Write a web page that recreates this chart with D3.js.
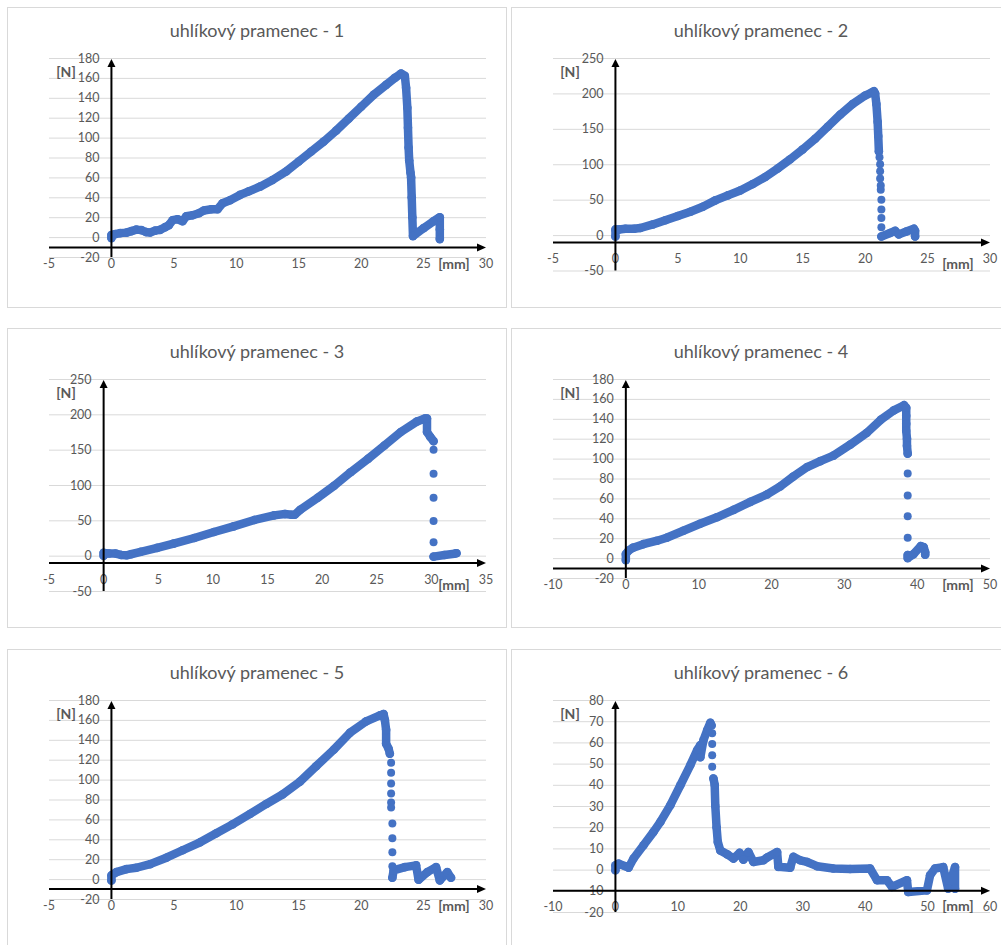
<!DOCTYPE html>
<html><head><meta charset="utf-8">
<script src="https://cdn.jsdelivr.net/npm/d3@7"></script>
<style>body{margin:0;background:#fff;} svg{display:block;}</style>
</head><body>
<svg id="c" width="1001" height="945"></svg>
<script>
// ---------- titles & tick labels ----------
const titles = ["uhlíkový pramenec - 1","uhlíkový pramenec - 2","uhlíkový pramenec - 3",
                "uhlíkový pramenec - 4","uhlíkový pramenec - 5","uhlíkový pramenec - 6"];
const xTicks1 = [-5,0,5,10,15,20,25,30];
const yTicks1 = [-20,0,20,40,60,80,100,120,140,160,180];
const xTicks2 = [-5,0,5,10,15,20,25,30];
const yTicks2 = [-50,0,50,100,150,200,250];
const xTicks3 = [-5,0,5,10,15,20,25,30,35];
const yTicks3 = [-50,0,50,100,150,200,250];
const xTicks4 = [-10,0,10,20,30,40,50];
const yTicks4 = [-20,0,20,40,60,80,100,120,140,160,180];
const xTicks5 = [-5,0,5,10,15,20,25,30];
const yTicks5 = [-20,0,20,40,60,80,100,120,140,160,180];
const xTicks6 = [-10,0,10,20,30,40,50,60];
const yTicks6 = [-20,-10,0,10,20,30,40,50,60,70,80];
const yUnit = "[N]", xUnit = "[mm]";

// ---------- series (dense trace; null = break) ----------
const s1x = [0,0,0.3,0.7,1.2,1.6,2.0,2.4,2.8,3.1,3.5,3.9,4.3,4.6,4.9,5.3,5.7,6.0,6.5,7.0,7.4,8.0,8.5,8.9,9.5,10.3,11.0,11.9,12.9,14,15,16,17,18,19,20,21,22,22.7,23.2,23.5,23.6,23.7,23.75,23.8,23.85,23.95,24.0,24.05,24.1,24.15,25.0,25.8,26.3,26.3,26.3];
const s1y = [-1,2,3,4,4.5,6,7.5,7,5,4.6,6.5,7.3,10,12,17,18,16,21,22,24,26.7,28,28,34,37,42.4,46,50.7,57.4,66,76,86,96,107,119,131,143,153,160,164.4,162,150,130,110,90,77,65,60,40,20,1,9,16,20,8,-2];
const d1x = [], d1y = [];

const s2x = [0,0,0.3,0.8,1.5,2,3,4,5,6,7,8,9,10,11,12,13,14,15,16,17,18,19,20,20.5,20.7,20.8,20.9,21.0,21.05,21.1,null,21.3,22,22.4,22.7,23.3,23.9,24,24];
const s2y = [-2,8,8,9,9,10,15,21,27,33,40,49,56,63,72,82,94,107,121,136,153,170,185,197,201,203,200,185,160,140,118,null,-2,3,6,1,5,9,6,-2];
const d2x = [21.15,21.2,21.2,21.2,21.25,21.25,21.3,21.3,21.3,21.3];
const d2y = [110,100,90,80,70,64,50,36,24,11];

const s3x = [0,0,0.5,1.1,1.6,2.1,2.5,3.4,4.9,6.4,8.3,10.1,11.9,13.8,15.6,16.6,17.2,17.5,18,19.6,21.1,22.6,24.2,25.7,27.2,28.7,29.4,29.6,29.6,29.9,30.2,null,30.2,31.2,32.1,32.3];
const s3y = [0,4,3,3,1,0.5,2,5.5,11,17,25,33.5,41.5,50.5,57,59,58,58,65,82,99,118,137,156,175,190,194,194,175,168,162,null,-1.4,1,2.8,3.5];
const d3x = [30.2,30.2,30.2,30.2,30.2];
const d3y = [150,116,82,49,19];

const s4x = [0,0,0.4,1,2.4,4.3,5.6,7.9,10.2,12.5,14.8,17.1,19.4,21.2,23,24.9,26.7,28.5,30.8,33.1,35,36.8,38.2,38.5,38.5,38.5,38.5,38.6,38.6,38.7,null,38.7,38.7,39.5,40.5,40.9,41.1,41.1];
const s4y = [-2,4,7.7,10.5,14,17.5,20.5,27.5,34.5,41,48.5,56.5,64,72,82,91.5,97.5,103,114,126,139,148.5,153.7,151,143,135,128,120,113,105,null,3,0,4,12,11,6,3.4];
const d4x = [38.7,38.7,38.7,38.7];
const d4y = [85,63,42,20.5];

const s5x = [0,0,0.4,1.2,2,3.1,4.4,5.7,7.1,8.4,9.7,11.1,12.4,13.7,15.1,16.4,17.8,19.1,20.4,21.5,21.8,21.9,22,22,22.2,22.3,null,22.5,22.6,23.5,24.4,24.6,25.3,26,26.3,26.9,27.2];
const s5y = [-1.3,3.7,7,10,11.4,15,21.5,29,37,46,55,65.5,75.5,85,98,113.5,130,147,158.5,164.5,165.8,160,150,136,131,126,null,1.3,8.7,12,13.8,-0.7,7,12,-1.3,7,1.3];
const d5x = [22.4,22.4,22.4,22.4,22.4,22.4,22.5,22.5,22.5,22.5];
const d5y = [117,107,96,86,77,72,56,41,27,13];

const s6x = [0,0,0.5,1.6,2.1,2.9,4.5,6.1,7.2,8.8,10.4,12,13.1,13.6,13.6,14.1,14.7,15.2,15.4,null,15.7,15.9,16,16.2,16.4,16.8,17.9,18.9,19.9,20.5,21.3,22.1,23.7,24.3,25.9,26.1,28,28.5,29.6,30.7,32.3,34.9,37.6,40.8,41.9,43.5,44.3,46.7,46.9,49.9,50.4,51.2,52.5,53.3,54.4,54.4];
const s6y = [-0.3,2,2.8,1.6,0.9,5.2,11.5,17.8,22.5,30.4,39.8,49.3,56.4,58.7,53,61,65.8,69.3,68,null,43,40,30,20,13,9,7.2,5.2,7.9,4.7,8.3,3.6,4.4,5.7,8.3,1.3,0.9,6,4.4,3.6,1.6,0.5,0.3,0.5,-5,-5,-8.2,-5,-10.6,-9.8,-2.7,0.5,1.2,-9,1.2,-9];
const d6x = [15.5,15.5,15.5,15.5];
const d6y = [64.3,59.2,53.9,48.5];

// ---------- layout ----------
const panels = [
  {l:7,   t:7,   w:500, h:301, xd:[-5,30],  yd:[-20,180], bot:250, cross:-10.5, xt:xTicks1, yt:yTicks1, sx:s1x, sy:s1y, dx:d1x, dy:d1y},
  {l:511, t:7,   w:500, h:301, xd:[-5,30],  yd:[-50,250], bot:263.5, cross:-10.5, xt:xTicks2, yt:yTicks2, sx:s2x, sy:s2y, dx:d2x, dy:d2y},
  {l:7,   t:328, w:500, h:300, xd:[-5,35],  yd:[-50,250], bot:263, cross:-10.5, xt:xTicks3, yt:yTicks3, sx:s3x, sy:s3y, dx:d3x, dy:d3y},
  {l:511, t:328, w:500, h:300, xd:[-10,50], yd:[-20,180], bot:250, cross:-10.5, xt:xTicks4, yt:yTicks4, sx:s4x, sy:s4y, dx:d4x, dy:d4y},
  {l:7,   t:649, w:500, h:310, xd:[-5,30],  yd:[-20,180], bot:250, cross:-10, xt:xTicks5, yt:yTicks5, sx:s5x, sy:s5y, dx:d5x, dy:d5y},
  {l:511, t:649, w:500, h:310, xd:[-10,60], yd:[-20,80],  bot:263, cross:-10, xt:xTicks6, yt:yTicks6, sx:s6x, sy:s6y, dx:d6x, dy:d6y}
];

const svg = d3.select("#c");
const BLUE = "#4472C4", GREY = "#595959", GRID = "#d9d9d9";
const FONT = "Lato, 'Open Sans', sans-serif";

panels.forEach((p, i) => {
  const g = svg.append("g").attr("transform", `translate(${p.l},${p.t})`);
  g.append("rect").attr("x",0.5).attr("y",0.5).attr("width",p.w-1).attr("height",p.h-1)
    .attr("fill","#fff").attr("stroke",GRID).attr("stroke-width",1);
  g.append("text").attr("x",250).attr("y",23).attr("text-anchor","middle").attr("dominant-baseline","central")
    .attr("font-family",FONT).attr("font-size",18).attr("fill",GREY).text(titles[i]);

  const x = d3.scaleLinear().domain(p.xd).range([42, 479]);
  const y = d3.scaleLinear().domain(p.yd).range([p.bot, 51]);

  // gridlines
  const gy = d3.axisLeft(y).tickValues(p.yt).tickSize(-(479-42)).tickFormat("");
  g.append("g").attr("transform","translate(42,0)").call(gy)
    .call(s => s.select(".domain").remove())
    .call(s => s.selectAll("line").attr("stroke",GRID).attr("stroke-width",1));

  // y tick labels (right aligned left of y axis)
  const x0 = x(0);
  g.append("g").selectAll("text").data(p.yt).join("text")
    .attr("x", x0 - 12).attr("y", d => y(d)).attr("text-anchor","end").attr("dominant-baseline","central")
    .attr("font-family",FONT).attr("font-size",12.5).attr("fill",GREY).text(d => d);

  // x tick labels (below the black axis line)
  const yc = y(p.cross);
  g.append("g").selectAll("text").data(p.xt).join("text")
    .attr("x", d => x(d)).attr("y", yc + 16).attr("text-anchor","middle").attr("dominant-baseline","central")
    .attr("font-family",FONT).attr("font-size",12.5).attr("fill",GREY).text(d => d);

  // unit labels
  g.append("text").attr("x",59).attr("y",64).attr("text-anchor","middle").attr("dominant-baseline","central")
    .attr("font-family",FONT).attr("font-size",14).attr("font-weight","bold").attr("fill",GREY).text(yUnit);
  g.append("text").attr("x",447).attr("y",256).attr("text-anchor","middle").attr("dominant-baseline","central")
    .attr("font-family",FONT).attr("font-size",14).attr("font-weight","bold").attr("fill",GREY).text(xUnit);

  // series
  const pts = p.sx.map((v, k) => [v, p.sy[k]]);
  const line = d3.line().defined(d => d[0] !== null && d[1] !== null).x(d => x(d[0])).y(d => y(d[1]));
  g.append("path").attr("d", line(pts)).attr("fill","none").attr("stroke",BLUE)
    .attr("stroke-width",8.5).attr("stroke-linejoin","round").attr("stroke-linecap","round");
  g.append("g").selectAll("circle").data(pts.filter(d => d[0] !== null)).join("circle")
    .attr("cx", d => x(d[0])).attr("cy", d => y(d[1])).attr("r",4.3).attr("fill",BLUE);
  const dots = p.dx.map((v, k) => [v, p.dy[k]]);
  g.append("g").selectAll("circle").data(dots).join("circle")
    .attr("cx", d => x(d[0])).attr("cy", d => y(d[1])).attr("r",4).attr("fill",BLUE);

  // axes (black with arrow heads)
  const top = y(p.yd[1]), bottom = y(p.yd[0]);
  g.append("line").attr("x1",x0).attr("x2",x0).attr("y1",bottom).attr("y2",top+7)
    .attr("stroke","#000").attr("stroke-width",2);
  g.append("path").attr("d",`M${x0-4},${top+9}L${x0+4},${top+9}L${x0},${top+1}Z`).attr("fill","#000");
  const left = x(p.xd[0]), right = x(p.xd[1]);
  g.append("line").attr("x1",left).attr("x2",right-7).attr("y1",yc).attr("y2",yc)
    .attr("stroke","#000").attr("stroke-width",2);
  g.append("path").attr("d",`M${right-9},${yc-4}L${right-9},${yc+4}L${right},${yc}Z`).attr("fill","#000");
});
</script>
</body></html>
